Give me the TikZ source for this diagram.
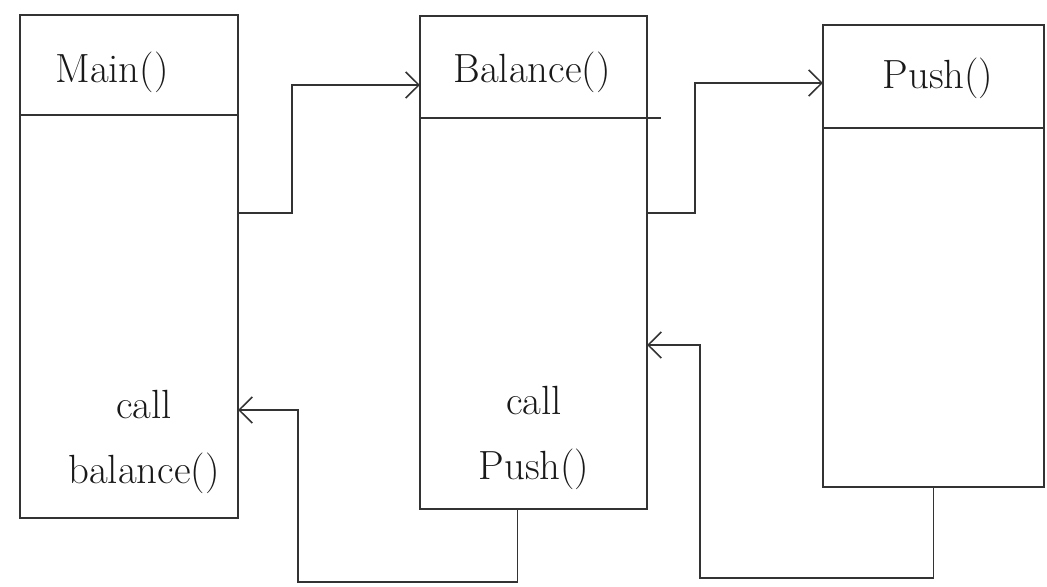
\documentclass[tikz,border=0pt]{standalone}
\usepackage{tikz}
\usetikzlibrary{arrows.meta, positioning}

\tikzset{
  frame/.style={draw=black!80, line width=1.1pt, rectangle, inner sep=0pt, outer sep=0pt, anchor=north west},
  flow/.style={draw=black!80, line width=1.1pt, -{Straight Barb[length=3.3mm, width=6.5mm, line width=1.1pt]}},
  label/.style={font=\fontsize{29}{46}\selectfont, align=center, text=black!90}
}

\begin{document}
\begin{tikzpicture}
\useasboundingbox (0,0) rectangle (26.175,14.65);

% function frames
\node[frame, minimum width=5.45cm, minimum height=12.575cm] (main) at (0.5,14.275) {};
\node[frame, minimum width=5.675cm, minimum height=12.325cm] (balance) at (10.5,14.25) {};
\node[frame, minimum width=5.525cm, minimum height=11.55cm] (push) at (20.575,14.025) {};

% header lines
\draw[black!80, line width=1.1pt] ([yshift=-2.5cm]main.north west) -- ([yshift=-2.5cm]main.north east);
\draw[black!80, line width=1.1pt] ([yshift=-2.55cm]balance.north west) -- ([xshift=3.5mm, yshift=-2.55cm]balance.north east);
\draw[black!80, line width=1.1pt] ([yshift=-2.575cm]push.north west) -- ([yshift=-2.575cm]push.north east);

% names
\node[label] (mainname) at (2.8,12.85) {Main()};
\node[label] (balancename) at (13.3,12.85) {Balance()};
\node[label] (pushname) at (23.45,12.7) {Push()};

% calls
\node[label] (callbalance) at (3.6,3.6) {call\\balance()};
\node[label] (callpush) at (13.35,3.7) {call\\Push()};

% calls going out
\draw[flow] (main.east |- 0,9.325) -- ++(1.35,0) |- (balance.west |- 0,12.525);
\draw[flow] (balance.east |- 0,9.325) -- ++(1.2,0) |- (push.west |- 0,12.575);

% returns
\draw[flow] (push.south) -- ++(0,-2.275) -| (17.5,6.025) -- (balance.east |- 0,6.025);
\draw[flow] ([xshift=-4mm]balance.south) -- ++(0,-1.825) -| (7.45,4.4) -- (main.east |- 0,4.4);
\end{tikzpicture}
\end{document}
